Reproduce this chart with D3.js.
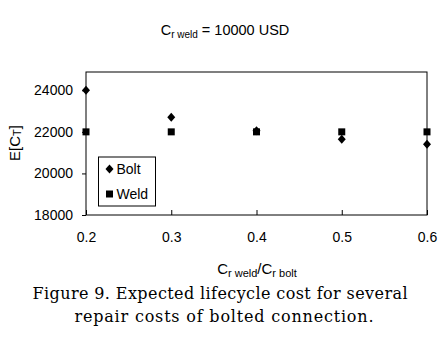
<!DOCTYPE html>
<html>
<head>
<meta charset="utf-8">
<script src="https://cdn.jsdelivr.net/npm/d3@7"></script>
<style>
  body { margin: 0; background: #fff; }
  text { font-family: "Liberation Sans", Arial, sans-serif; fill: #000; }
</style>
</head>
<body>
<div id="chart"></div>
<script>
const ratios = [0.2, 0.3, 0.4, 0.5, 0.6];
const boltCost = [24000, 22700, 22050, 21650, 21400];
const weldCost = [22000, 22000, 22000, 22000, 22000];
const yTicks = [18000, 20000, 22000, 24000];

const svg = d3.select("#chart").append("svg")
    .attr("width", 443)
    .attr("height", 352);

const margin = { top: 72, right: 16, bottom: 137, left: 86 };
const width = 427 - margin.left;
const height = 215 - margin.top;

const g = svg.append("g").attr("transform", `translate(${margin.left},${margin.top})`);

const x = d3.scaleLinear().domain([0.2, 0.6]).range([0, width]);
const y = d3.scaleLinear().domain([18000, 24880]).range([height, 0]);

// plot frame
g.append("rect")
    .attr("width", width)
    .attr("height", height)
    .attr("fill", "none")
    .attr("stroke", "#000")
    .attr("stroke-width", 1);

// x axis, ticks inside
const xAxis = g.append("g")
    .attr("transform", `translate(0,${height})`)
    .call(d3.axisBottom(x).tickValues(ratios).tickSize(-5).tickPadding(17).tickFormat(d3.format(".1f")));
xAxis.select(".domain").remove();
xAxis.selectAll("text").style("font-size", "14px");

// y axis, ticks outside
const yAxis = g.append("g")
    .call(d3.axisLeft(y).tickValues(yTicks).tickSize(4).tickPadding(9).tickFormat(d3.format("d")));
yAxis.select(".domain").remove();
yAxis.selectAll("text").style("font-size", "14px");

// Bolt diamonds
g.selectAll(".bolt")
    .data(ratios)
    .enter().append("path")
    .attr("class", "bolt")
    .attr("transform", (d, i) => `translate(${x(d)},${y(boltCost[i])})`)
    .attr("d", "M0,-4.5L4,0L0,4.5L-4,0Z")
    .attr("fill", "#000");

// Weld squares
g.selectAll(".weld")
    .data(ratios)
    .enter().append("rect")
    .attr("class", "weld")
    .attr("x", d => x(d) - 3.5)
    .attr("y", (d, i) => y(weldCost[i]) - 3.5)
    .attr("width", 7)
    .attr("height", 7)
    .attr("fill", "#000");

// legend
const legend = svg.append("g").attr("transform", "translate(98.5,157)");
legend.append("rect")
    .attr("width", 57)
    .attr("height", 49)
    .attr("fill", "#fff")
    .attr("stroke", "#000");
legend.append("path")
    .attr("transform", "translate(11,12)")
    .attr("d", "M0,-4.5L4,0L0,4.5L-4,0Z");
legend.append("text").attr("x", 18).attr("y", 17).style("font-size", "14px").text("Bolt");
legend.append("rect").attr("x", 7.5).attr("y", 33.5).attr("width", 7).attr("height", 7);
legend.append("text").attr("x", 18).attr("y", 42).style("font-size", "14px").text("Weld");

// title
const title = svg.append("text")
    .attr("x", 225)
    .attr("y", 35)
    .attr("text-anchor", "middle")
    .style("font-size", "14.5px");
title.append("tspan").text("C");
title.append("tspan").attr("dy", 3).style("font-size", "10px").text("r weld");
title.append("tspan").attr("dy", -3).text(" = 10000 USD");

// y label
const yLabel = svg.append("text")
    .attr("transform", "translate(20,143) rotate(-90)")
    .attr("text-anchor", "middle")
    .style("font-size", "15px");
yLabel.append("tspan").text("E[C");
yLabel.append("tspan").attr("dy", 1).style("font-size", "11px").text("T");
yLabel.append("tspan").attr("dy", -1).text("]");

// x label
const xLabel = svg.append("text")
    .attr("x", 257)
    .attr("y", 274)
    .attr("text-anchor", "middle")
    .style("font-size", "15px");
xLabel.append("tspan").text("C");
xLabel.append("tspan").attr("dy", 3).style("font-size", "11px").text("r weld");
xLabel.append("tspan").attr("dy", -3).text("/C");
xLabel.append("tspan").attr("dy", 3).style("font-size", "11px").text("r bolt");

// caption
svg.append("text")
    .attr("x", 220)
    .attr("y", 299)
    .attr("text-anchor", "middle")
    .style("font-family", "'DejaVu Serif', serif")
    .style("font-size", "16px")
    .attr("textLength", 375)
    .text("Figure 9. Expected lifecycle cost for several");
svg.append("text")
    .attr("x", 224)
    .attr("y", 322)
    .attr("text-anchor", "middle")
    .style("font-family", "'DejaVu Serif', serif")
    .style("font-size", "16px")
    .attr("textLength", 299)
    .text("repair costs of bolted connection.");
</script>
</body>
</html>
